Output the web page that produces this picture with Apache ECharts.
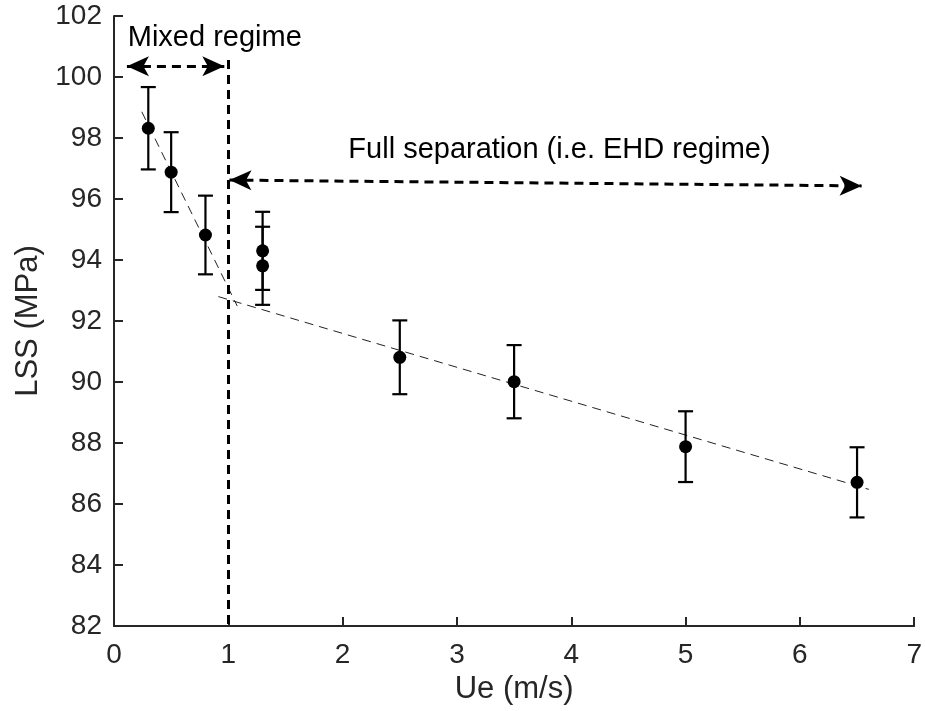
<!DOCTYPE html>
<html>
<head>
<meta charset="utf-8">
<script src="https://cdn.jsdelivr.net/npm/echarts@6/dist/echarts.min.js"></script>
<style>
  html, body { margin: 0; padding: 0; background: #fff; }
  #main { width: 925px; height: 711px; }
</style>
</head>
<body>
<div id="main"></div>
<script>
// measured points (Ue in m/s, LSS in MPa) and half error bar
const ue = [0.3, 0.5, 0.8, 1.3, 1.3, 2.5, 3.5, 5, 6.5];
const lss = [98.32, 96.88, 94.82, 94.3, 93.81, 90.81, 90.01, 87.88, 86.71];
const err = [1.35, 1.31, 1.29, 1.28, 1.28, 1.21, 1.2, 1.16, 1.15];

// dashed trend lines
const fitMixed = [[0.243, 98.86], [1.078, 92.49]];
const fitEhd = [[0.913, 92.80], [6.603, 86.48]];

// annotation lines / texts
const mixedArrow = [[0.113, 100.35], [0.965, 100.35]];
const ehdArrow = [[1.01, 96.62], [6.54, 96.43]];
const boundary = [[1, 100.56], [1, 82]];
const mixedLabel = [0.12, 101.28, 'Mixed regime'];
const ehdLabel = [2.05, 97.6, 'Full separation (i.e. EHD regime)'];

const xTicks = [0, 7, 1];
const yTicks = [82, 102, 2];

const axisColor = '#262626';
const font = 'Liberation Sans, Arial, Helvetica, sans-serif';

const chart = echarts.init(document.getElementById('main'));

const pts = ue.map((x, i) => [x, lss[i], err[i]]);

const option = {
    animation: false,
    grid: {left: 114, right: 6, top: 16, bottom: 85, containLabel: false},
    xAxis: {
        type: 'value',
        min: xTicks[0], max: xTicks[1], interval: xTicks[2],
        name: 'Ue (m/s)',
        nameLocation: 'middle',
        nameGap: 48,
        nameTextStyle: {fontSize: 31, color: axisColor, fontFamily: font},
        axisLine: {lineStyle: {color: axisColor, width: 2}},
        axisTick: {inside: true, length: 9, lineStyle: {color: axisColor, width: 2}},
        axisLabel: {fontSize: 28, color: axisColor, fontFamily: font, margin: 15},
        splitLine: {show: false}
    },
    yAxis: {
        type: 'value',
        min: yTicks[0], max: yTicks[1], interval: yTicks[2],
        name: 'LSS (MPa)',
        nameLocation: 'middle',
        nameGap: 70,
        nameTextStyle: {fontSize: 31, color: axisColor, fontFamily: font},
        axisLine: {show: true, lineStyle: {color: axisColor, width: 2}},
        axisTick: {show: true, inside: true, length: 9, lineStyle: {color: axisColor, width: 2}},
        axisLabel: {fontSize: 28, color: axisColor, fontFamily: font, margin: 12},
        splitLine: {show: false}
    },
    series: [
        {
            type: 'line',
            data: fitMixed,
            symbol: 'none',
            lineStyle: {color: '#222', width: 1, type: [9, 6]},
            z: 1
        },
        {
            type: 'line',
            data: fitEhd,
            symbol: 'none',
            lineStyle: {color: '#222', width: 1, type: [9, 6]},
            z: 1
        },
        {
            // error bars
            type: 'custom',
            data: pts,
            z: 2,
            renderItem: (params, api) => {
                const x = api.value(0), y = api.value(1), e = api.value(2);
                const top = api.coord([x, y + e]);
                const bot = api.coord([x, y - e]);
                const w = 7.5;
                const st = {stroke: '#000', lineWidth: 2.2};
                return {
                    type: 'group',
                    children: [
                        {type: 'line', shape: {x1: top[0], y1: top[1], x2: bot[0], y2: bot[1]}, style: st},
                        {type: 'line', shape: {x1: top[0] - w, y1: top[1], x2: top[0] + w, y2: top[1]}, style: st},
                        {type: 'line', shape: {x1: bot[0] - w, y1: bot[1], x2: bot[0] + w, y2: bot[1]}, style: st}
                    ]
                };
            }
        },
        {
            type: 'scatter',
            data: pts,
            symbol: 'circle',
            symbolSize: 13,
            itemStyle: {color: '#000', opacity: 1},
            z: 3
        },
        {
            // annotations
            type: 'line',
            data: [],
            markLine: {
                silent: true,
                animation: false,
                symbol: ['arrow', 'arrow'],
                symbolSize: [15, 22],
                label: {show: false},
                lineStyle: {color: '#000', width: 3, type: [9, 6]},
                data: [
                    [{coord: mixedArrow[0]}, {coord: mixedArrow[1]}],
                    [{coord: ehdArrow[0]}, {coord: ehdArrow[1]}],
                    [{coord: boundary[0], symbol: 'none'}, {coord: boundary[1], symbol: 'none'}]
                ]
            },
            markPoint: {
                silent: true,
                animation: false,
                symbol: 'rect',
                symbolSize: 0,
                label: {
                    show: true,
                    position: 'right',
                    distance: 0,
                    color: '#000',
                    fontSize: 29,
                    fontFamily: font,
                    formatter: (p) => p.name
                },
                data: [
                    {name: mixedLabel[2], coord: [mixedLabel[0], mixedLabel[1]]},
                    {name: ehdLabel[2], coord: [ehdLabel[0], ehdLabel[1]]}
                ]
            }
        }
    ]
};

chart.setOption(option);
</script>
</body>
</html>
